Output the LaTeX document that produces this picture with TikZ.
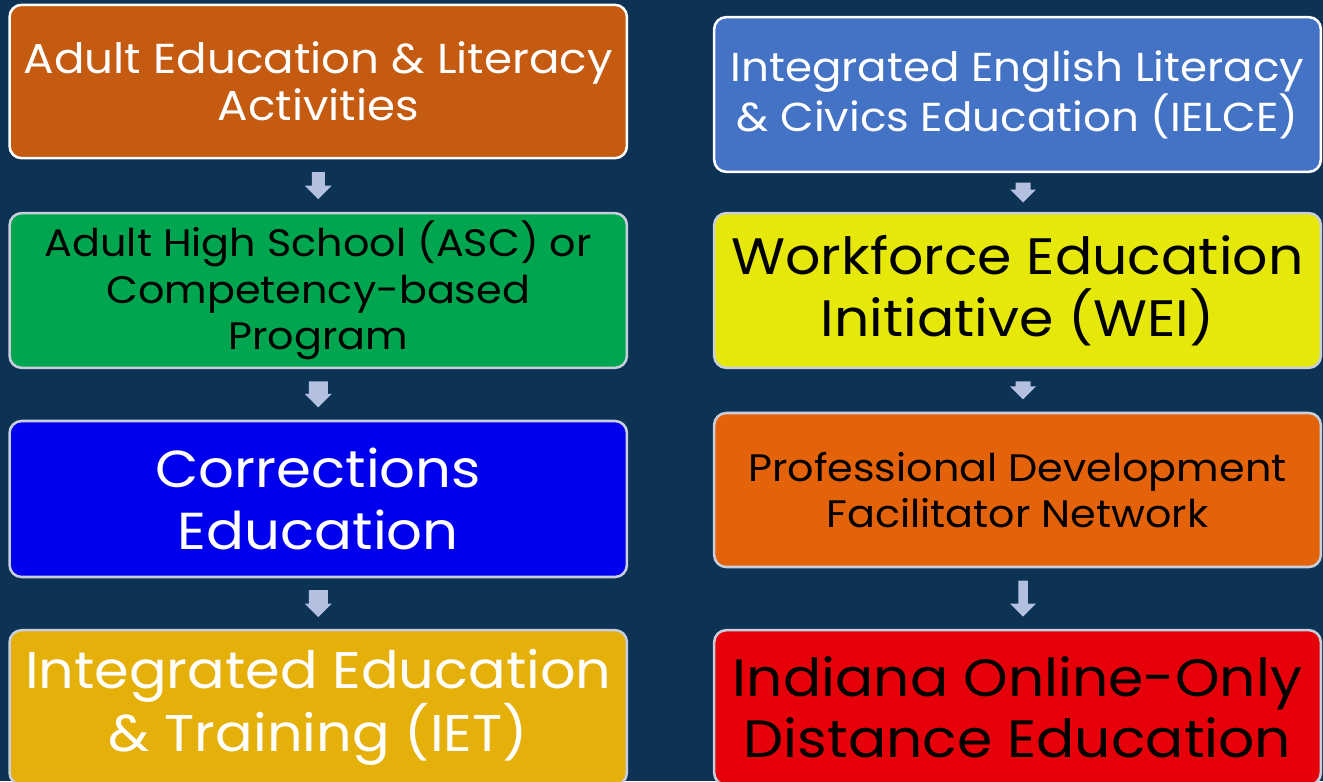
\documentclass[tikz,border=0pt]{standalone}
\usepackage{fontspec}
\setmainfont[FakeStretch=1.08]{Poppins}
\usetikzlibrary{calc}

\definecolor{navy}{HTML}{0C3254}
\definecolor{rimgray}{HTML}{C8CEDC}
\definecolor{arrowblue}{HTML}{B4C0E0}
\definecolor{rust}{HTML}{C55A11}
\definecolor{leaf}{HTML}{00A550}
\definecolor{royal}{HTML}{0000EE}
\definecolor{gold}{HTML}{E6B00A}
\definecolor{steel}{HTML}{4472C4}
\definecolor{lemon}{HTML}{E6E80A}
\definecolor{pumpkin}{HTML}{E3620A}
\definecolor{scarlet}{HTML}{E6000A}

% block arrow between two boxes: from, to, half length, half shaft, half head, x shift
\newcommand{\flowarrow}[6]{%
  \coordinate (m) at ($(#1.south)!0.5!(#2.north)+(#6,0)$);
  \fill[arrowblue] ($(m)+(-#4,-#3)$) -- ($(m)+(#4,-#3)$) -- ($(m)+(#4,#3-#5)$)
    -- ($(m)+(#5,#3-#5)$) -- ($(m)+(0,#3)$) -- ($(m)+(-#5,#3-#5)$)
    -- ($(m)+(-#4,#3-#5)$) -- cycle;}

\tikzset{
  box/.style={draw=rimgray, line width=1.9pt, rounded corners=9pt, align=center, inner sep=0pt},
  leftbox/.style={box, minimum width=463pt},
  rightbox/.style={box, minimum width=455pt},
  fs/.style 2 args={font=\fontsize{#1}{#2}\selectfont}
}

\begin{document}
\begin{tikzpicture}[x=0.75pt, y=-0.75pt]
  \fill[navy] (0,0) rectangle (1323,781);
  \useasboundingbox (0,0) rectangle (1323,781);
  \clip (0,0) rectangle (1323,781);

  % left column
  \node[leftbox, fill=rust, draw=white, minimum height=115pt, fs={31.4pt}{35pt}, text=white] (adult) at (318.25,81.5)
    {Adult Education \& Literacy\\Activities};
  \node[leftbox, fill=leaf, minimum height=116pt, fs={28.7pt}{35pt}, text=black] (ahs) at (318.25,290.5)
    {Adult High School (ASC) or\\Competency-based\\Program};
  \node[leftbox, fill=royal, minimum height=117pt, fs={39pt}{47pt}, text=white] (corr) at (318.25,499)
    {Corrections\\Education};
  \node[leftbox, fill=gold, minimum height=116pt, fs={38.7pt}{45pt}, text=white] (iet) at (318.25,707.5)
    {Integrated Education\\\& Training (IET)};

  % right column
  \node[rightbox, fill=steel, draw=white, minimum height=116pt, fs={30.3pt}{35pt}, text=white] (ielce) at (1017.5,94.5)
    {Integrated English Literacy\\\& Civics Education (IELCE)};
  \node[rightbox, fill=lemon, minimum height=116pt, fs={38.4pt}{46.5pt}, text=black] (wei) at (1017.5,290.5)
    {Workforce Education\\Initiative (WEI)};
  \node[rightbox, fill=pumpkin, minimum height=115.5pt, fs={28.7pt}{34.5pt}, text=black] (pdf) at (1017.5,490)
    {Professional Development\\Facilitator Network};
  \node[rightbox, fill=scarlet, minimum height=116pt, fs={39.4pt}{46pt}, text=black] (online) at (1017.5,707.5)
    {Indiana Online-Only\\Distance Education};

  \flowarrow{adult}{ahs}{13.5}{6.5}{13.5}{0}
  \flowarrow{ahs}{corr}{13}{9.5}{13.5}{0}
  \flowarrow{corr}{iet}{13.5}{9.5}{13.5}{0}
  \flowarrow{ielce}{wei}{10}{7.5}{13}{5.5}
  \flowarrow{wei}{pdf}{9}{7.5}{13}{5.5}
  \flowarrow{pdf}{online}{18}{4.75}{13}{5.5}
\end{tikzpicture}
\end{document}
